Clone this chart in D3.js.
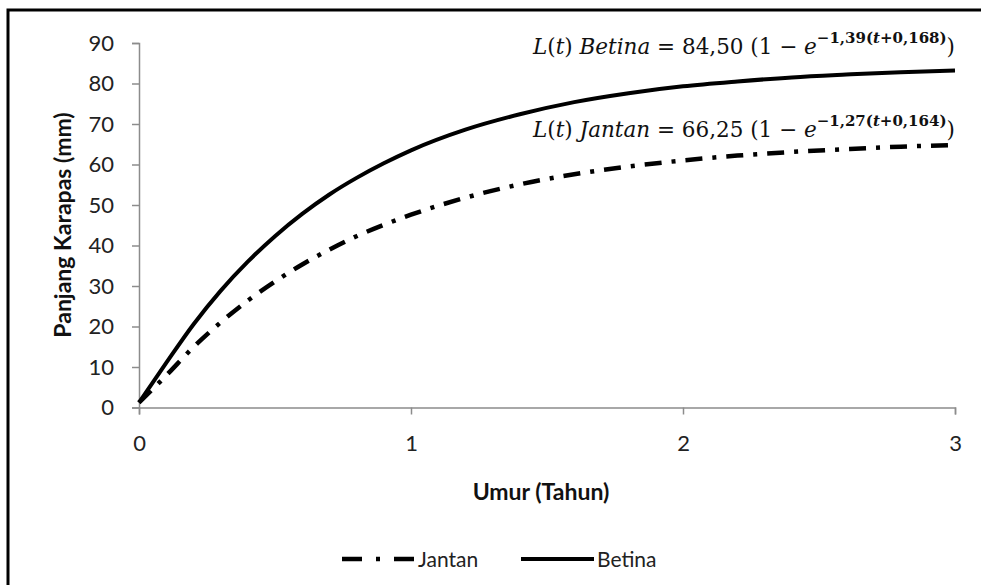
<!DOCTYPE html>
<html><head><meta charset="utf-8">
<script src="https://cdn.jsdelivr.net/npm/d3@7"></script>
<style>
html,body{margin:0;padding:0;background:#fff;}
svg{display:block;}
</style></head>
<body>
<script>
// Data
const umur = [0, 0.1, 0.2, 0.3, 0.4, 0.5, 0.6, 0.7, 0.8, 0.9, 1.0, 1.2, 1.4, 1.6, 1.8, 2.0, 2.2, 2.4, 2.6, 2.8, 3.0];
const betina = [1.2, 11.0, 20.5, 28.8, 36.0, 42.3, 47.8, 52.6, 56.7, 60.3, 63.5, 68.6, 72.4, 75.4, 77.6, 79.3, 80.5, 81.5, 82.2, 82.8, 83.2];
const jantan = [1.2, 7.9, 14.9, 21.0, 26.4, 31.1, 35.3, 39.0, 42.3, 45.1, 47.6, 51.8, 55.1, 57.6, 59.5, 61.0, 62.2, 63.1, 63.8, 64.4, 64.8];
const xTicks = [0, 1, 2, 3];
const yTicks = [0, 10, 20, 30, 40, 50, 60, 70, 80, 90];
const seriesNames = ["Jantan", "Betina"];
const xTitle = "Umur (Tahun)";
const yTitle = "Panjang Karapas (mm)";

const W = 981, H = 585;
const svg = d3.select("body").append("svg").attr("width", W).attr("height", H);

// outer frame (extends beyond right/bottom)
svg.append("rect").attr("x", 8).attr("y", 10).attr("width", 1000).attr("height", 1000)
  .attr("fill", "none").attr("stroke", "#000").attr("stroke-width", 3);

const x = d3.scaleLinear().domain([0, 3]).range([139, 955]);
const y = d3.scaleLinear().domain([0, 90]).range([407.5, 43]);

const font = "Lato, 'Open Sans', sans-serif";
const axisColor = "#8c8c8c";

// y axis
const yAxis = svg.append("g").attr("transform", `translate(${x(0)},0)`)
  .call(d3.axisLeft(y).tickValues(yTicks).tickSize(7).tickPadding(18).tickFormat(d3.format("d")));
yAxis.select(".domain").attr("stroke", axisColor).attr("stroke-width", 1.5);
yAxis.selectAll(".tick line").attr("stroke", axisColor).attr("stroke-width", 1.5);
yAxis.selectAll(".tick text").attr("font-family", font).attr("font-size", 22).attr("fill", "#222");

// x axis
const xAxis = svg.append("g").attr("transform", `translate(0,${y(0)})`)
  .call(d3.axisBottom(x).tickValues(xTicks).tickSize(7).tickPadding(21).tickFormat(d3.format("d")));
xAxis.select(".domain").attr("stroke", axisColor).attr("stroke-width", 1.5);
xAxis.selectAll(".tick line").attr("stroke", axisColor).attr("stroke-width", 1.5);
xAxis.selectAll(".tick text").attr("font-family", font).attr("font-size", 22).attr("fill", "#222");

// axis titles
svg.append("text").attr("x", 541).attr("y", 500).attr("text-anchor", "middle")
  .attr("font-family", font).attr("font-weight", "bold").attr("font-size", 23).attr("fill", "#111").text(xTitle);
svg.append("text").attr("transform", "translate(71,225) rotate(-90)").attr("text-anchor", "middle")
  .attr("font-family", font).attr("font-weight", "bold").attr("font-size", 23).attr("fill", "#111").text(yTitle);

const line = d3.line().x((d, i) => x(umur[i])).y(d => y(d)).curve(d3.curveMonotoneX);
const dashDot = "17,10,4,10";

svg.append("path").datum(jantan).attr("d", line).attr("fill", "none")
  .attr("stroke", "#000").attr("stroke-width", 4.5).attr("stroke-dasharray", dashDot);
svg.append("path").datum(betina).attr("d", line).attr("fill", "none")
  .attr("stroke", "#000").attr("stroke-width", 4);

// equations
function eq(yPos, name, a, k, t0) {
  const t = svg.append("text").attr("x", 533).attr("y", yPos)
    .attr("font-family", "'DejaVu Serif', 'Liberation Serif', serif").attr("font-size", 21.5).attr("fill", "#111");
  t.append("tspan").attr("font-style", "italic").text("L");
  t.append("tspan").text("(");
  t.append("tspan").attr("font-style", "italic").text("t");
  t.append("tspan").text(") ");
  t.append("tspan").attr("font-style", "italic").text(name);
  t.append("tspan").text(" = " + a + " (1 − ");
  t.append("tspan").attr("font-style", "italic").text("e");
  t.append("tspan").attr("dy", -11).attr("font-size", 15).attr("font-weight", "bold").text("−" + k + "(");
  t.append("tspan").attr("font-size", 15).attr("font-weight", "bold").attr("font-style", "italic").text("t");
  t.append("tspan").attr("font-size", 15).attr("font-weight", "bold").text("+" + t0 + ")");
  t.append("tspan").attr("dy", 11).attr("font-size", 21.5).text(")");
}
eq(54, "Betina", "84,50", "1,39", "0,168");
eq(137, "Jantan", "66,25", "1,27", "0,164");

// legend
const ly = 559;
const lg = svg.append("g");
lg.append("line").attr("x1", 342).attr("x2", 414).attr("y1", ly).attr("y2", ly)
  .attr("stroke", "#000").attr("stroke-width", 4.5).attr("stroke-dasharray", "20,14,4,14");
lg.append("text").attr("x", 418).attr("y", ly + 8).attr("font-family", font).attr("font-size", 21).attr("fill", "#222").text(seriesNames[0]);
lg.append("line").attr("x1", 521).attr("x2", 594).attr("y1", ly).attr("y2", ly)
  .attr("stroke", "#000").attr("stroke-width", 4);
lg.append("text").attr("x", 597).attr("y", ly + 8).attr("font-family", font).attr("font-size", 21).attr("fill", "#222").text(seriesNames[1]);
</script>
</body></html>
